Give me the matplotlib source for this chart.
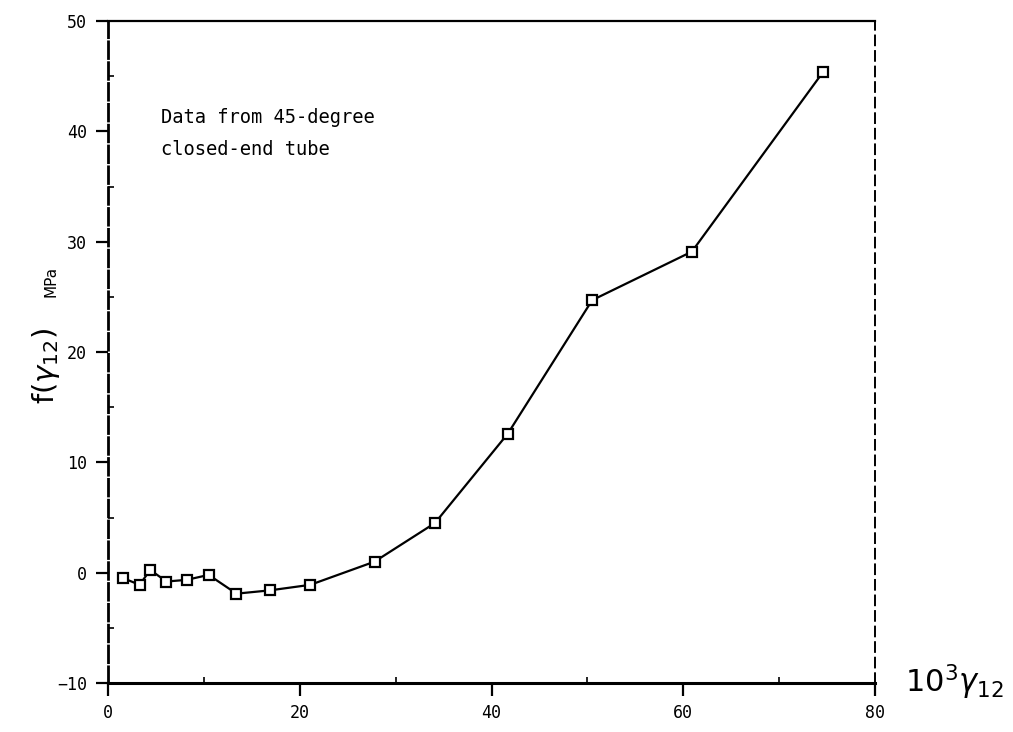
import matplotlib
matplotlib.use("Agg")
import matplotlib.pyplot as plt
from matplotlib.ticker import MultipleLocator

# data
strain = [1.6, 3.3, 4.4, 6.1, 8.2, 10.5, 13.4, 16.9, 21.1,
          27.8, 34.1, 41.7, 50.5, 60.9, 74.6]
f_val = [-0.5, -1.1, 0.25, -0.8, -0.65, -0.2, -1.9, -1.6, -1.1,
         1.0, 4.5, 12.6, 24.7, 29.1, 45.4]

x_ticks = [0, 20, 40, 60, 80]
y_ticks = [-10, 0, 10, 20, 30, 40, 50]

fig = plt.figure(figsize=(10.13, 7.32), dpi=100)
ax = fig.add_axes([0.1066, 0.0669, 0.7572, 0.9044])

ax.plot(strain, f_val, '-', color='black', linewidth=1.6,
        marker='s', markersize=6.5, markerfacecolor='white',
        markeredgecolor='black', markeredgewidth=1.6)

ax.set_xlim(0, 80)
ax.set_ylim(-10, 50)
ax.set_xticks(x_ticks)
ax.set_yticks(y_ticks)
ax.xaxis.set_minor_locator(MultipleLocator(10))
ax.yaxis.set_minor_locator(MultipleLocator(5))
ax.tick_params(axis='both', which='major', direction='out', length=9,
               width=1.6, labelsize=12, pad=6)
ax.tick_params(axis='both', which='minor', direction='in', length=4, width=1.2)
for lab in ax.get_xticklabels() + ax.get_yticklabels():
    lab.set_family('DejaVu Sans Mono')

# spines look like a rough scan: solid bottom/top, broken sides
ax.spines['bottom'].set_linewidth(2.2)
ax.spines['top'].set_linewidth(1.6)
ax.spines['left'].set_linewidth(2.0)
ax.spines['left'].set_linestyle((0, (6, 1.5)))
ax.spines['right'].set_linewidth(1.4)
ax.spines['right'].set_linestyle((0, (5, 3)))

ax.text(5.5, 39.8, "Data from 45-degree\nclosed-end tube",
        family='DejaVu Sans Mono', fontsize=13.5, linespacing=1.9,
        va='center', ha='left')

fig.text(0.045, 0.50, r"f($\gamma_{12}$)", rotation=90, fontsize=21,
         ha='center', va='center')
fig.text(0.05, 0.615, "MPa", rotation=90, fontsize=11,
         ha='center', va='center')
fig.text(0.893, 0.068, r"$10^3\gamma_{12}$", fontsize=22,
         ha='left', va='center')

fig.savefig('out.png', dpi=100)
